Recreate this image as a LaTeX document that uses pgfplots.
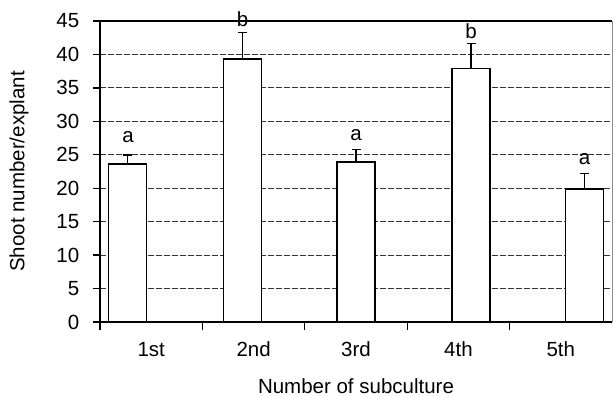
\documentclass[border=0pt]{standalone}
\usepackage{fontspec}
\setmainfont{Liberation Sans}
\usepackage{pgfplots}
\pgfplotsset{compat=1.18}
\newcommand\F{\fontsize{20.5bp}{24bp}\selectfont}
\begin{document}
\begin{tikzpicture}[font=\F]
\begin{axis}[
  at={(0,0)}, anchor=south west,
  scale only axis, width=512bp, height=301bp,
  xmin=100, xmax=612, ymin=0, ymax=45,
  axis x line*=bottom, axis y line*=left,
  axis line style={line width=1.3bp, -},
  ytick={0,5,...,45},
  xtick={151.2,253.6,356,458.4,560.8},
  xticklabels={1st,2nd,3rd,4th,5th},
  minor xtick={100,202.4,304.8,407.2,509.6},
  major x tick style={draw=none},
  minor tick length=8bp, major tick length=7bp,
  tick style={line width=1.3bp, black},
  tick align=outside,
  ymajorgrids,
  grid style={line width=0.9bp, black!80, dash pattern=on 6bp off 2bp},
  /pgf/number format/assume math mode=true,
  yticklabel style={font=\F, anchor=east, inner sep=0pt, xshift=-13.5bp},
  xticklabel style={font=\F, anchor=base, inner sep=0pt, yshift=-27bp},
  xlabel={Number of subculture},
  xlabel style={font=\F, at={(axis description cs:0.5,-0.2359)}, anchor=base, inner sep=0pt},
  ylabel={Shoot number/explant},
  ylabel style={font=\F, at={(axis description cs:-0.1582,0.5)}, anchor=center, inner sep=0pt},
  clip=false,
]
\addplot[ybar, bar width=38bp, fill=white, draw=black, line width=1.3bp,
  error bars/.cd, y dir=plus, y explicit,
  error bar style={line width=1.5bp, black},
  error mark options={rotate=90, line width=1.5bp, mark size=4.5bp, black}]
  coordinates {
    (127.5,23.6) +- (0,1.4)
    (242.5,39.3) +- (0,4.0)
    (356,23.9) +- (0,1.9)
    (471,37.9) +- (0,3.7)
    (584.5,19.9) +- (0,2.3)
  };
\addplot[draw=none, mark=none, nodes near coords, point meta=explicit symbolic,
  every node near coord/.append style={font=\F, anchor=base, inner sep=0pt}]
  coordinates {
    (128,26.8) [a]
    (242.5,44.15) [b]
    (356,27.1) [a]
    (471,42.4) [b]
    (584.5,23.6) [a]
  };
\draw[line width=1.3bp] (rel axis cs:0,1) -- (rel axis cs:1,1);
\draw[black!45, line width=0.8bp] (rel axis cs:1,0) -- (rel axis cs:1,1);
\end{axis}
\pgfresetboundingbox
\path (-100bp,-75bp) rectangle (513bp,322bp);
\end{tikzpicture}
\end{document}
